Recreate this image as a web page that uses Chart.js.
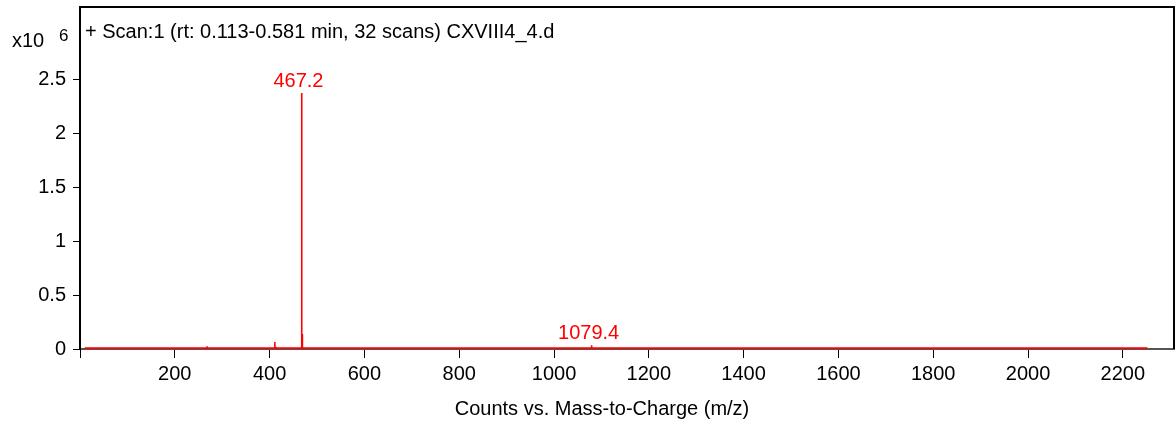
<!DOCTYPE html>
<html>
<head>
<meta charset="utf-8">
<script src="https://cdn.jsdelivr.net/npm/chart.js@4.4.1/dist/chart.umd.min.js"></script>
<style>
html, body { margin: 0; padding: 0; background: #fff; }
#wrap { width: 1176px; height: 425px; }
</style>
</head>
<body>
<div id="wrap"><canvas id="ms-chart"></canvas></div>
<script>
// spectrum sticks (m/z, counts)
var peakMz = [268.1, 316.2, 367.1, 411.1, 413.2, 467.2, 468.2, 469.2, 1079.4];
var peakCounts = [25000, 12000, 15000, 65000, 20000, 2370000, 815000, 140000, 35000];
var baseMz = [10, 2252];
var baseCounts = 8000;
var labelMz = [467.2, 1079.4];
var xTicks = [0, 200, 400, 600, 800, 1000, 1200, 1400, 1600, 1800, 2000, 2200];
var yTicks = [0, 0.5, 1, 1.5, 2, 2.5];

var FONT = "'Liberation Sans', Arial, sans-serif";

// build stick line: baseline -> up -> down for each peak
var points = [{x: baseMz[0], y: baseCounts}];
for (var i = 0; i < peakMz.length; i++) {
    points.push({x: peakMz[i], y: baseCounts});
    points.push({x: peakMz[i], y: peakCounts[i]});
    points.push({x: peakMz[i], y: baseCounts});
}
points.push({x: baseMz[1], y: baseCounts});

var decorPlugin = {
    id: 'decor',
    afterDraw: function (chart) {
        var ctx = chart.ctx;
        var a = chart.chartArea;
        var xs = chart.scales.x, ys = chart.scales.y;
        ctx.save();
        // top and right frame
        ctx.strokeStyle = '#000';
        ctx.lineWidth = 2;
        ctx.beginPath();
        ctx.moveTo(a.left, a.top);
        ctx.lineTo(a.right, a.top);
        ctx.lineTo(a.right, a.bottom);
        ctx.stroke();

        ctx.fillStyle = '#000';
        ctx.textAlign = 'left';
        ctx.textBaseline = 'alphabetic';
        ctx.font = '20px ' + FONT;
        ctx.fillText('x10', 12, 47);
        ctx.font = '17px ' + FONT;
        ctx.fillText('6', 59, 41);

        ctx.font = '20px ' + FONT;
        ctx.fillText('+ Scan:1 (rt: 0.113-0.581 min, 32 scans) CXVIII4_4.d', 85, 38);

        ctx.textAlign = 'center';
        ctx.fillText('Counts vs. Mass-to-Charge (m/z)', 602, 415);

        // peak labels
        ctx.fillStyle = '#ff0000';
        for (var i = 0; i < labelMz.length; i++) {
            var k = peakMz.indexOf(labelMz[i]);
            var px = xs.getPixelForValue(labelMz[i]);
            var py = ys.getPixelForValue(peakCounts[k]);
            ctx.fillText(labelMz[i].toFixed(1), px - 3, py - 6);
        }
        ctx.restore();
    }
};

new Chart(document.getElementById('ms-chart').getContext('2d'), {
    type: 'line',
    data: {
        datasets: [{
            data: points,
            borderColor: '#ff0000',
            borderWidth: 1.6,
            pointRadius: 0,
            tension: 0,
            fill: false
        }]
    },
    options: {
        responsive: true,
        maintainAspectRatio: false,
        animation: false,
        events: [],
        layout: { padding: { top: 7, right: 2, left: 0, bottom: 0 } },
        plugins: {
            legend: { display: false },
            tooltip: { enabled: false }
        },
        scales: {
            x: {
                type: 'linear',
                min: 0,
                max: 2308,
                afterFit: function (s) { s.height = 76; s.paddingLeft = 0; s.paddingRight = 0; },
                afterBuildTicks: function (s) {
                    s.ticks = xTicks.map(function (v) { return {value: v}; });
                },
                grid: { drawOnChartArea: false, drawTicks: true, tickLength: 9, color: '#000', lineWidth: 1 },
                border: { display: true, color: '#555', width: 2 },
                ticks: {
                    padding: 4,
                    color: '#000',
                    font: { family: FONT, size: 20 },
                    maxRotation: 0,
                    autoSkip: false,
                    callback: function (v) { return v === 0 ? '' : v; }
                }
            },
            y: {
                min: 0,
                max: 3167000,
                afterFit: function (s) { s.width = 80; s.paddingTop = 0; s.paddingBottom = 0; },
                afterBuildTicks: function (s) {
                    s.ticks = yTicks.map(function (v) { return {value: v * 1e6}; });
                },
                grid: { drawOnChartArea: false, drawTicks: true, tickLength: 7, color: '#000', lineWidth: 1 },
                border: { display: true, color: '#000', width: 2 },
                ticks: {
                    padding: 7,
                    color: '#000',
                    font: { family: FONT, size: 20 },
                    callback: function (v) { return String(v / 1e6); }
                }
            }
        }
    },
    plugins: [decorPlugin]
});
</script>
</body>
</html>
